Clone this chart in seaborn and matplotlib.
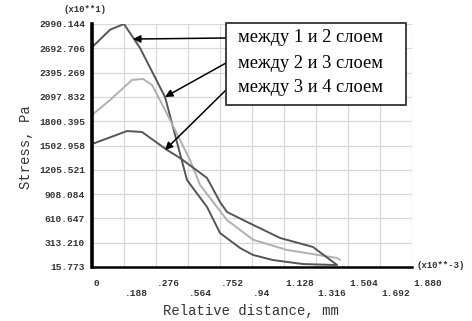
import matplotlib
matplotlib.use("Agg")
import matplotlib.pyplot as plt
import seaborn as sns
import pandas as pd
from matplotlib.patches import Rectangle

# ---- data (axis units as displayed) ----
x_l12 = [0.0, 0.106, 0.188, 0.282, 0.429, 0.558, 0.676, 0.752, 0.870, 0.946, 1.063, 1.24, 1.43]
y_l12 = [2705, 2920, 2990, 2697, 2097, 1081, 750, 432, 248, 163, 101, 52, 40]

x_l23 = [0.0, 0.106, 0.235, 0.300, 0.353, 0.429, 0.576, 0.635, 0.793, 0.946, 1.146, 1.44, 1.457]
y_l23 = [1876, 2060, 2305, 2317, 2243, 1938, 1325, 1019, 591, 350, 224, 126, 101]

x_l34 = [0.0, 0.206, 0.294, 0.441, 0.517, 0.676, 0.752, 0.793, 0.911, 1.105, 1.298, 1.44]
y_l34 = [1521, 1680, 1668, 1448, 1350, 1105, 811, 689, 567, 371, 261, 40]

series_names = ["между 1 и 2 слоем", "между 2 и 3 слоем", "между 3 и 4 слоем"]
series_colors = ["#555555", "#b0b0b0", "#555555"]

x_ticks = [0, 0.188, 0.376, 0.564, 0.752, 0.94, 1.128, 1.316, 1.504, 1.692, 1.880]
x_tick_labels = ["0", ".188", ".276", ".564", ".752", ".94", "1.128", "1.316", "1.504", "1.692", "1.880"]
y_ticks = [15.773, 313.210, 610.647, 908.084, 1205.521, 1502.958, 1800.395,
           2097.832, 2395.269, 2692.706, 2990.144]
y_tick_labels = ["15.773", "313.210", "610.647", "908.084", "1205.521", "1502.958",
                 "1800.395", "2097.832", "2395.269", "2692.706", "2990.144"]

rows = []
for name, xs, ys in zip(series_names, [x_l12, x_l23, x_l34], [y_l12, y_l23, y_l34]):
    for xv, yv in zip(xs, ys):
        rows.append({"x": xv, "y": yv, "s": name})
df = pd.DataFrame(rows)

sns.set_style("white")
mono = ["Liberation Mono", "DejaVu Sans Mono"]
serif = ["Liberation Serif", "DejaVu Serif"]

fig = plt.figure(figsize=(4.72, 3.21), dpi=100)
ax = fig.add_axes([92 / 472, 54 / 321, 320 / 472, 243 / 321])

sns.lineplot(data=df, x="x", y="y", hue="s", palette=dict(zip(series_names, series_colors)),
             sort=False, estimator=None, linewidth=1.4, legend=False, ax=ax)

ax.set_xlim(0, 1.880)
ax.set_ylim(15.773, 2990.144)
ax.set_xticks(x_ticks)
ax.set_yticks(y_ticks)
ax.grid(True, color="#d8d8d8", linewidth=0.9)
ax.set_axisbelow(True)

ax.set_yticklabels(y_tick_labels, fontfamily=mono, fontsize=6.8, fontweight="bold", color="#333333")
ax.set_xticklabels([])
for i, (tv, tl) in enumerate(zip(x_ticks, x_tick_labels)):
    yoff = -16 if i % 2 == 0 else -27
    ax.annotate(tl, xy=(tv, 0), xycoords=("data", "axes fraction"),
                xytext=(1, yoff), textcoords="offset pixels", ha="left", va="center",
                fontfamily=mono, fontsize=6.8, fontweight="bold", color="#333333")
ax.tick_params(axis="both", length=0, pad=5)

for s in ["top", "right"]:
    ax.spines[s].set_visible(False)
ax.spines["left"].set_linewidth(2.6)
ax.spines["bottom"].set_linewidth(1.8)
ax.spines["left"].set_color("black")
ax.spines["bottom"].set_color("black")

ax.set_xlabel("")
ax.set_ylabel("")
fig.text(251 / 472, 1 - 311 / 321, "Relative distance, mm", ha="center", va="center",
         fontfamily=mono, fontsize=10, color="#333333")
fig.text(26 / 472, 1 - 147 / 321, "Stress, Pa", ha="center", va="center", rotation=90,
         fontfamily=mono, fontsize=10, color="#333333")
fig.text(85 / 472, 1 - 10 / 321, "(x10**1)", ha="center", va="center",
         fontfamily=mono, fontsize=6.5, fontweight="bold", color="#333333")
fig.text(441 / 472, 1 - 266 / 321, "(x10**-3)", ha="center", va="center",
         fontfamily=mono, fontsize=6.5, fontweight="bold", color="#333333")

# annotation box
box = Rectangle((226 / 472, 1 - 105 / 321), 180 / 472, 82 / 321, transform=fig.transFigure,
                facecolor="white", edgecolor="#222222", linewidth=1.2, zorder=5)
fig.patches.append(box)
for txt, yy in zip(series_names, [38, 63, 88]):
    fig.text(238 / 472, 1 - yy / 321, txt, ha="left", va="center", fontfamily=serif,
             fontsize=13.2, color="black", zorder=6)

heads = [(0.241, 2806), (0.429, 2097), (0.429, 1448)]
tails = [38, 63, 90]
for (hx, hy), ty in zip(heads, tails):
    ax.annotate("", xy=(hx, hy), xycoords="data",
                xytext=(226, 321 - ty), textcoords="figure pixels",
                arrowprops=dict(arrowstyle="-|>", color="black", lw=1.1, mutation_scale=11,
                                shrinkA=0, shrinkB=0))

fig.savefig("out.png", dpi=100)
